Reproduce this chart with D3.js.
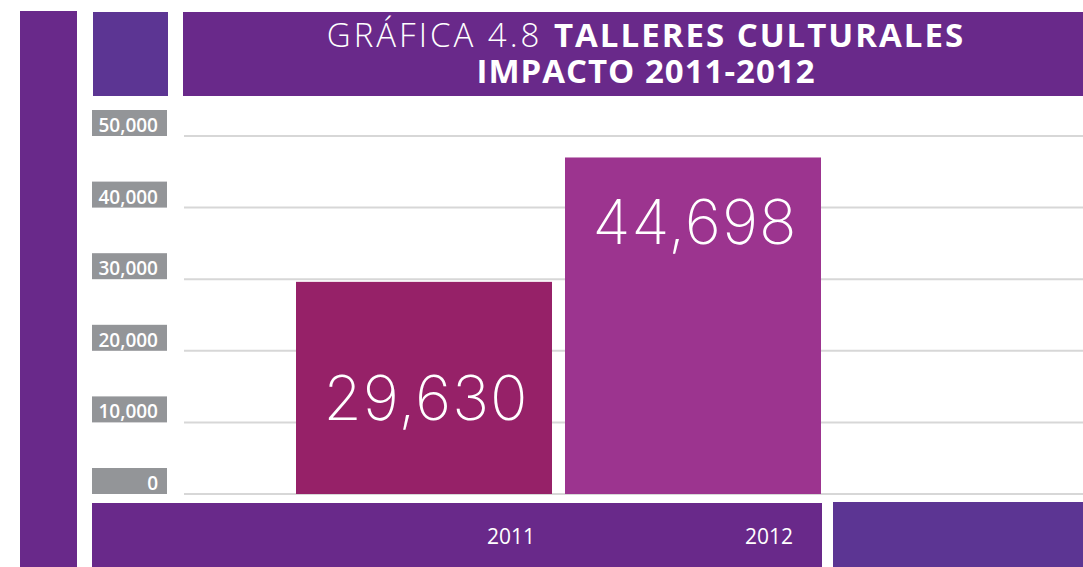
<!DOCTYPE html>
<meta charset="utf-8">
<style>
body { margin: 0; background: #fff; }
svg { display: block; }
.grid line { stroke: #d7d7d7; stroke-width: 2px; }
.ylab text { fill: #fff; font-family: "Open Sans", sans-serif; font-weight: 600; font-size: 19px; text-anchor: end; }
.val { fill: #fff; font-family: "Inter", "Lato", sans-serif; font-weight: 200; font-size: 62px; text-anchor: middle; letter-spacing: 1px; }
.cat { fill: #fff; font-family: "Open Sans", sans-serif; font-size: 21px; text-anchor: middle; }
.title { fill: #fff; font-family: "Open Sans", sans-serif; font-size: 33px; text-anchor: middle; }
</style>
<svg width="1083" height="567"></svg>
<script src="https://cdn.jsdelivr.net/npm/d3@7"></script>
<script>

var categories = ["2011", "2012"];
// bar heights as drawn on the axis; labels printed on the bars
var values = [29630, 47000];
var valueLabels = ["29,630", "44,698"];
var ticks = [0, 10000, 20000, 30000, 40000, 50000];

var purple = "#69298a",
    violet = "#5c3593",
    barColors = ["#962168", "#9c348f"];

var svg = d3.select("svg");

var x = d3.scaleBand()
    .domain(categories)
    .range([296, 821])
    .paddingInner(0.0483);

var y = d3.scaleLinear()
    .domain([0, 50000])
    .range([494, 136]);

// frame blocks
svg.append("rect").attr("x", 20).attr("y", 11).attr("width", 57).attr("height", 560).attr("fill", purple);
svg.append("rect").attr("x", 93).attr("y", 12).attr("width", 75).attr("height", 84).attr("fill", violet);
svg.append("rect").attr("x", 183).attr("y", 12).attr("width", 900).attr("height", 84).attr("fill", purple);
svg.append("rect").attr("x", 92).attr("y", 503).attr("width", 730).attr("height", 64).attr("fill", purple);
svg.append("rect").attr("x", 833).attr("y", 502).attr("width", 250).attr("height", 65).attr("fill", violet);

// title
var t1 = svg.append("text").attr("class", "title").attr("x", 646).attr("y", 47);
t1.append("tspan").style("font-weight", 300).style("letter-spacing", "3px").text("GRÁFICA 4.8 ");
t1.append("tspan").style("font-weight", 700).style("letter-spacing", "2px").text("TALLERES CULTURALES");
svg.append("text").attr("class", "title").attr("x", 646).attr("y", 83)
    .style("font-weight", 700).style("letter-spacing", "1px").text("IMPACTO 2011-2012");

// gridlines
svg.append("g").attr("class", "grid")
  .selectAll("line")
  .data(ticks)
  .enter().append("line")
    .attr("x1", 184).attr("x2", 1083)
    .attr("y1", function(d) { return y(d); })
    .attr("y2", function(d) { return y(d); });

// y labels in gray boxes
var yl = svg.append("g").attr("class", "ylab")
  .selectAll("g")
  .data(ticks)
  .enter().append("g")
    .attr("transform", function(d) { return "translate(92," + (y(d) - 26) + ")"; });
yl.append("rect").attr("width", 75).attr("height", 26).attr("fill", "#939598");
yl.append("text").attr("x", 66).attr("y", 22).text(d3.format(","));

// bars
svg.selectAll(".bar")
  .data(values)
  .enter().append("rect")
    .attr("class", "bar")
    .attr("x", function(d, i) { return x(categories[i]); })
    .attr("y", function(d) { return y(d); })
    .attr("width", x.bandwidth())
    .attr("height", function(d) { return y(0) - y(d); })
    .attr("fill", function(d, i) { return barColors[i]; });

// value labels
svg.selectAll(".val")
  .data(values)
  .enter().append("text")
    .attr("class", "val")
    .attr("x", function(d, i) { return x(categories[i]) + x.bandwidth() / 2 + 2; })
    .attr("y", function(d, i) { return i === 0 ? 420 : y(d) + 87; })
    .text(function(d, i) { return valueLabels[i]; });

// category labels
svg.selectAll(".cat")
  .data(categories)
  .enter().append("text")
    .attr("class", "cat")
    .attr("x", function(d, i) { return x(d) + x.bandwidth() - (i === 0 ? 41 : 52); })
    .attr("y", 544)
    .text(function(d) { return d; });

</script>
